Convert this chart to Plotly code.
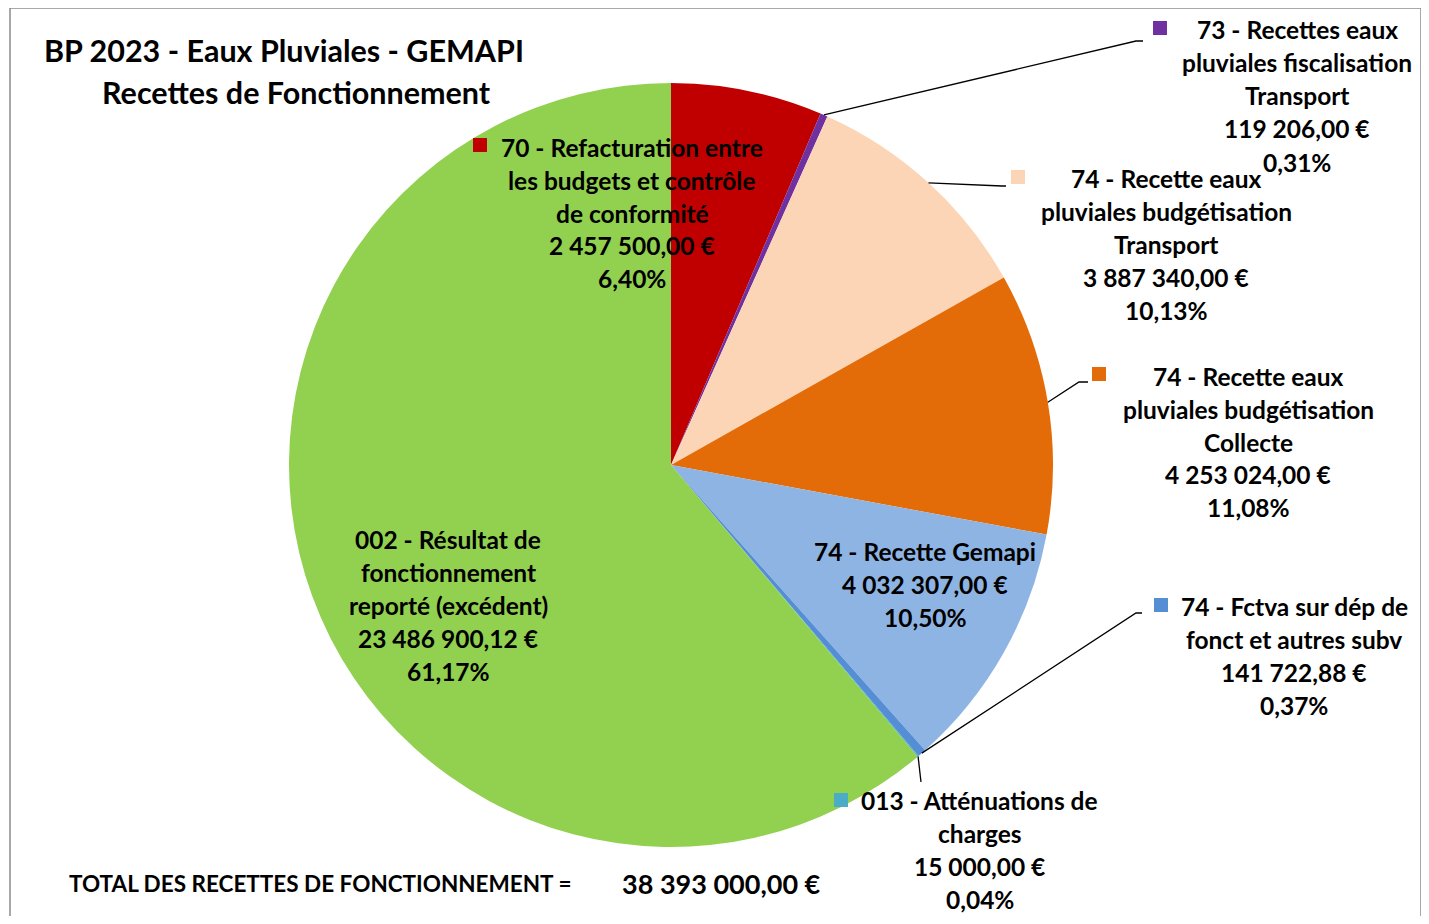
import math
import plotly.graph_objects as go

OFF = 8  # page body margin compensation
W, H = 1429 - 2 * OFF, 924 - 2 * OFF

# ---------------- data ----------------
categories = [
    "70 - Refacturation entre les budgets et contrôle de conformité",
    "73 - Recettes eaux pluviales fiscalisation Transport",
    "74 - Recette eaux pluviales budgétisation Transport",
    "74 - Recette eaux pluviales budgétisation Collecte",
    "74 - Recette Gemapi",
    "74 - Fctva sur dép de fonct et autres subv",
    "013 - Atténuations de charges",
    "002 - Résultat de fonctionnement reporté (excédent)",
]
values = [2457500.00, 119206.00, 3887340.00, 4253024.00, 4032307.00,
          141722.88, 15000.00, 23486900.12]
label_lines = [
    ["70 - Refacturation entre", "les budgets et contrôle", "de conformité"],
    ["73 - Recettes eaux", "pluviales fiscalisation", "Transport"],
    ["74 - Recette eaux", "pluviales budgétisation", "Transport"],
    ["74 - Recette eaux", "pluviales budgétisation", "Collecte"],
    ["74 - Recette Gemapi"],
    ["74 - Fctva sur dép de", "fonct et autres subv"],
    ["013 - Atténuations de", "charges"],
    ["002 - Résultat de", "fonctionnement", "reporté (excédent)"],
]
colors = ["#C00000", "#7030A0", "#FBD5B5", "#E36C09", "#8EB4E3",
          "#558ED5", "#4BACC6", "#92D050"]
title_lines = ["BP 2023 - Eaux Pluviales - GEMAPI", "Recettes de Fonctionnement"]
total_label = "TOTAL DES RECETTES DE FONCTIONNEMENT ="

# ---------------- layout helpers ----------------
FONT = "Lato"
def px(x):
    return (x - OFF) / W
def py(y):
    return 1 - (y - OFF) / H

def fr_money(v):
    s = f"{v:,.2f}"
    return s.replace(",", " ").replace(".", ",") + " €"

def fr_pct(p):
    return f"{p:.2f}".replace(".", ",") + "%"

total = sum(values)

# pie geometry (screen pixels)
cx, cy, R = 671, 465, 382
dom_x = [px(cx - R), px(cx + R)]
dom_y = [py(cy + R), py(cy - R)]

fig = go.Figure()
fig.add_trace(go.Pie(
    labels=categories, values=values, sort=False, direction="clockwise",
    rotation=0, marker=dict(colors=colors, line=dict(width=0)),
    textinfo="none", hoverinfo="label+value+percent", showlegend=False,
    domain=dict(x=dom_x, y=dom_y),
))

# label placement (pixel centre of first line), key squares and leader lines
label_pos = [(632, 147), (1297, 30), (1166, 178), (1248, 376),
             (925, 551), (1294, 606), (980, 800), (448, 539)]
key_pos = [(473, 138), (1153, 21), (1011, 170), (1092, 367),
           None, (1154, 598), (834, 793), None]
leader_pts = [None, [(1136, 41), (1143, 41)], [(1002, 186), (1006, 186)],
              [(1079, 382), (1088, 382)], None, [(1136, 613), (1142, 613)],
              [(921, 782)], None]

annotations = []
shapes = []
LS = 33
FS = 24.5

def add_text(x, y, text, size=FS):
    annotations.append(dict(
        x=px(x), y=py(y), xref="paper", yref="paper", text=f"<b>{text}</b>",
        showarrow=False, xanchor="center", yanchor="middle",
        font=dict(family=FONT, size=size, color="#000000")))

cum = 0.0
for i, v in enumerate(values):
    frac = v / total
    mid = cum + frac / 2
    cum += frac
    lines = label_lines[i] + [fr_money(v), fr_pct(frac * 100)]
    lx, ly = label_pos[i]
    for k, t in enumerate(lines):
        add_text(lx, ly + k * LS, t)
    if key_pos[i] is not None:
        kx, ky = key_pos[i]
        shapes.append(dict(type="rect", xref="paper", yref="paper",
                           x0=px(kx), x1=px(kx + 14), y0=py(ky + 14), y1=py(ky),
                           fillcolor=colors[i], line=dict(width=0)))
    if leader_pts[i] is not None:
        ang = mid * 2 * math.pi
        sx = cx + R * math.sin(ang)
        sy = cy - R * math.cos(ang)
        pts = [(sx, sy)] + leader_pts[i]
        path = "M " + " L ".join(f"{px(a):.5f},{py(b):.5f}" for a, b in pts)
        shapes.append(dict(type="path", xref="paper", yref="paper", path=path,
                           line=dict(color="#000000", width=1.3)))

# title
add_text(284, 50, title_lines[0], 30.5)
add_text(296, 92, title_lines[1], 30.5)
# total
add_text(320, 883, total_label, 22.5)
add_text(721, 883, fr_money(total), 27)

# chart border
shapes.append(dict(type="rect", xref="paper", yref="paper",
                   x0=px(10), x1=px(1421), y0=py(960), y1=py(8),
                   line=dict(color="#8C8C8C", width=1.5), fillcolor="rgba(0,0,0,0)"))

fig.update_layout(
    width=W, height=H, margin=dict(l=0, r=0, t=0, b=0),
    paper_bgcolor="white", plot_bgcolor="white",
    annotations=annotations, shapes=shapes,
)

fig.write_html("out.html")
